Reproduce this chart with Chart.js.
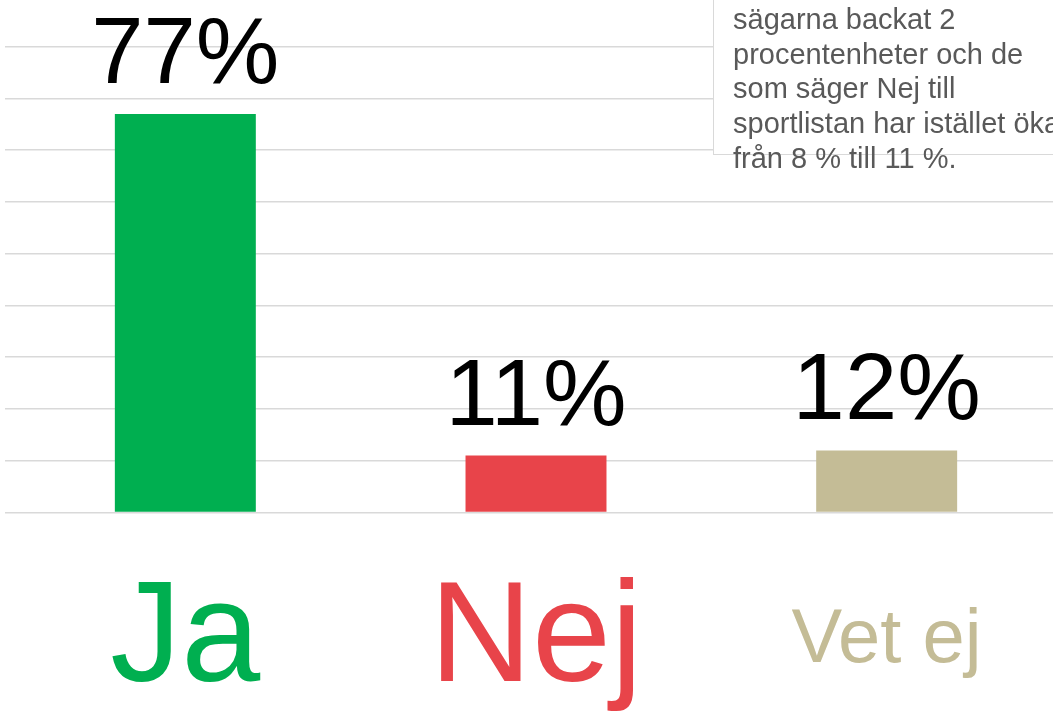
<!DOCTYPE html>
<html>
<head>
<meta charset="utf-8">
<script src="https://cdn.jsdelivr.net/npm/chart.js@4/dist/chart.umd.min.js"></script>
<style>
  html, body { margin: 0; padding: 0; overflow: hidden; background: #fff; width: 1053px; height: 712px; }
  #wrap { position: absolute; left: 0; top: 0; width: 1062px; height: 767px; }
  #note {
    position: absolute; left: 713px; top: -2px; width: 400px; height: 157px;
    box-sizing: border-box; background: #fff;
    border-left: 1.5px solid #d9d9d9; border-bottom: 1.5px solid #d9d9d9;
    padding: 4px 0 0 19px; white-space: nowrap;
    font-family: "Liberation Sans", Arial, sans-serif; font-size: 29px; line-height: 34.7px; color: #595959;
  }
</style>
</head>
<body>
<div id="wrap"><canvas id="chart"></canvas></div>
<div id="note">sägarna backat 2<br>procentenheter och de<br>som säger Nej till<br>sportlistan har istället ökat<br>från 8 % till 11 %.</div>
<script>
const labels = ["Ja", "Nej", "Vet ej"];
const values = [77, 11, 12];
const barColors = ["#00AF50", "#E8444A", "#C4BC96"];
const labelSizes = [142, 142, 76];

const FONT = '"Liberation Sans", Arial, sans-serif';

// value labels above each bar
const valueLabels = {
  id: "valueLabels",
  afterDatasetsDraw(chart) {
    const ctx = chart.ctx;
    const meta = chart.getDatasetMeta(0);
    ctx.save();
    ctx.font = "94px " + FONT;
    ctx.fillStyle = "#000";
    ctx.textAlign = "center";
    ctx.textBaseline = "alphabetic";
    meta.data.forEach((bar, i) => {
      ctx.fillText(values[i] + "%", bar.x, bar.y - 31);
    });
    ctx.restore();
  }
};

new Chart(document.getElementById("chart"), {
  type: "bar",
  data: {
    labels: labels,
    datasets: [{ data: values, backgroundColor: barColors, categoryPercentage: 1, barPercentage: 0.402 }]
  },
  options: {
    responsive: true,
    maintainAspectRatio: false,
    animation: false,
    layout: { padding: { left: 5, right: 0, top: 0, bottom: 4.5 } },
    plugins: { legend: { display: false }, tooltip: { enabled: false } },
    scales: {
      x: {
        grid: { display: false },
        border: { display: false },
        ticks: {
          padding: 50,
          color: ctx => barColors[ctx.index],
          font: ctx => ({ family: FONT, size: labelSizes[ctx.index], lineHeight: "142px" })
        }
      },
      y: {
        min: 0,
        max: 99,
        border: { display: false },
        grid: { color: "#d9d9d9", lineWidth: 1.5, drawTicks: true, tickLength: 5 },
        ticks: { display: false, stepSize: 10, includeBounds: false }
      }
    }
  },
  plugins: [valueLabels]
});
</script>
</body>
</html>
